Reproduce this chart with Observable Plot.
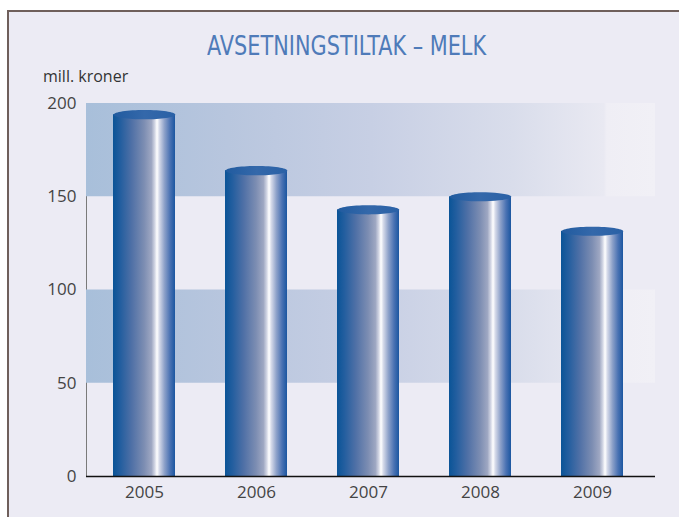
<!DOCTYPE html>
<html>
<head>
<meta charset="utf-8">
<script src="https://cdn.jsdelivr.net/npm/d3@7"></script>
<script src="https://cdn.jsdelivr.net/npm/@observablehq/plot@0.6"></script>
<style>
html, body { margin: 0; padding: 0; background: #ffffff; width: 679px; height: 517px; overflow: hidden; }
#frame { position: absolute; left: 7px; top: 10px; width: 720px; height: 540px; background: #ecebf4;
  border-left: 2px solid #6f5f5b; border-top: 2px solid #6f5f5b; }
#title { position: absolute; left: 0; top: 33px; width: 694px; text-align: center; white-space: nowrap;
  font-family: "Liberation Sans Narrow", "DejaVu Sans Condensed", sans-serif; font-size: 26px; line-height: 26px; color: #4f7bb9; }
#title span { display: inline-block; transform-origin: 50% 50%; }
#unit { position: absolute; left: 43px; top: 68px; font-family: "Open Sans", sans-serif; font-size: 16px; line-height: 16px; color: #333; white-space: nowrap; }
#chart { position: absolute; left: 0; top: 90px; }
#chart svg [aria-label="frame"] { stroke: #7a7a7a; }
</style>
</head>
<body>
<div id="frame"></div>
<div id="title"><span>AVSETNINGSTILTAK – MELK</span></div>
<div id="unit">mill. kroner</div>
<div id="chart"></div>
<script>
// ---- data ----
const years = ["2005", "2006", "2007", "2008", "2009"];
const values = [194, 164, 143, 150, 131.5];
const yTicks = [0, 50, 100, 150, 200];
const bandFrom = [50, 150];
const bandTo = [100, 200];

const data = years.map((year, i) => ({year, value: values[i]}));
const bands = bandFrom.map((lo, i) => ({lo, hi: bandTo[i]}));

// ---- layout ----
const xRange = [88, 648];
const padInner = 0.45, padOuter = 0.225;
const step = (xRange[1] - xRange[0]) / (years.length - padInner + 2 * padOuter);
const capR = step * (1 - padInner) / 2;

// elliptical symbol for the cylinder caps
const K = 0.5523;
const ellipse = {
  draw(ctx, size) {
    const rx = Math.sqrt(size / Math.PI), ry = rx * 0.15;
    ctx.moveTo(rx, 0);
    ctx.bezierCurveTo(rx, ry * K, rx * K, ry, 0, ry);
    ctx.bezierCurveTo(-rx * K, ry, -rx, ry * K, -rx, 0);
    ctx.bezierCurveTo(-rx, -ry * K, -rx * K, -ry, 0, -ry);
    ctx.bezierCurveTo(rx * K, -ry, rx, -ry * K, rx, 0);
    ctx.closePath();
  }
};

const chart = Plot.plot({
  width: 679,
  height: 427,
  marginTop: 13,
  marginBottom: 41,
  marginLeft: 86,
  marginRight: 24,
  style: {background: "transparent", fontFamily: "'Open Sans', sans-serif", fontSize: "17px", color: "#444", overflow: "visible"},
  x: {type: "band", domain: years, range: xRange, paddingInner: padInner, paddingOuter: padOuter, tickSize: 0, tickPadding: 9, label: null},
  y: {domain: [0, 200], ticks: yTicks, tickSize: 0, tickPadding: 10, label: null, line: true},
  marks: [
    Plot.rect(bands, {y1: "lo", y2: "hi", fill: "url(#bandGrad)"}),
    Plot.barY(data, {x: "year", y: "value", fill: "url(#cylGrad)"}),
    Plot.dot(data, {x: "year", y: "value", symbol: ellipse, r: capR, fill: "url(#capGrad)", stroke: "none"}),
    Plot.ruleY([0], {stroke: "#111", strokeWidth: 1.5})
  ]
});

// gradients
const svg = d3.select(chart.tagName.toLowerCase() === "svg" ? chart : chart.querySelector("svg"));
const defs = svg.insert("defs", ":first-child");
function grad(id, stops) {
  const g = defs.append("linearGradient").attr("id", id).attr("x1", 0).attr("x2", 1).attr("y1", 0).attr("y2", 0);
  for (const [o, c] of stops) g.append("stop").attr("offset", o).attr("stop-color", c);
}
grad("bandGrad", [[0, "#a8bfda"], [0.25, "#b8c6de"], [0.5, "#c7cfe4"], [0.75, "#d9ddeb"], [0.91, "#e9e9f2"], [0.915, "#efeef5"], [1, "#f1f0f6"]]);
grad("cylGrad", [[0, "#0a5497"], [0.12, "#235e9f"], [0.3, "#4f70a6"], [0.5, "#7c8db2"], [0.62, "#9ea7c2"], [0.67, "#cfd3e2"], [0.71, "#ffffff"], [0.75, "#d3d8e8"], [0.83, "#8da1c9"], [0.92, "#4a72b3"], [1, "#1b56a0"]]);
grad("capGrad", [[0, "#215b9f"], [0.5, "#3468aa"], [1, "#2a61a6"]]);

document.getElementById("chart").append(chart);

// fit title to reference width
const span = document.querySelector("#title span");
const w = span.getBoundingClientRect().width;
span.style.transform = `scaleX(${279 / w})`;
</script>
</body>
</html>
